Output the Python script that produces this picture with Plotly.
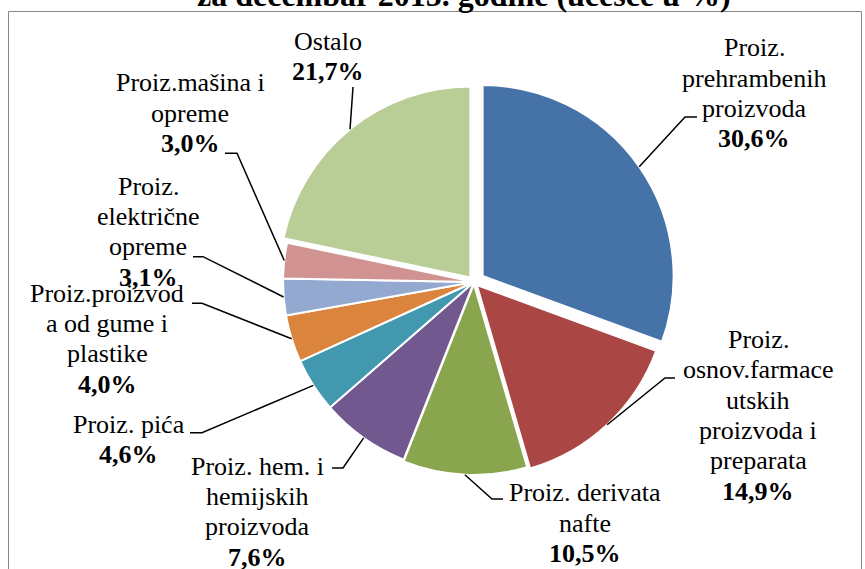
import math
import plotly.graph_objects as go

W, H = 865, 569

# ---------------- data ----------------
categories = [
    "Proiz. prehrambenih proizvoda",
    "Proiz. osnov.farmaceutskih proizvoda i preparata",
    "Proiz. derivata nafte",
    "Proiz. hem. i hemijskih proizvoda",
    "Proiz. pića",
    "Proiz.proizvoda od gume i plastike",
    "Proiz. električne opreme",
    "Proiz.mašina i opreme",
    "Ostalo",
]
shares = [30.6, 14.9, 10.5, 7.6, 4.6, 4.0, 3.1, 3.0, 21.7]
label_lines = [
    ["Proiz.", "prehrambenih", "proizvoda"],
    ["Proiz.", "osnov.farmace", "utskih", "proizvoda i", "preparata"],
    ["Proiz. derivata", "nafte"],
    ["Proiz. hem. i", "hemijskih", "proizvoda"],
    ["Proiz. pića"],
    ["Proiz.proizvod", "a od gume i", "plastike"],
    ["Proiz.", "električne", "opreme"],
    ["Proiz.mašina i", "opreme"],
    ["Ostalo"],
]
title_text = "za decembar 2015. godine (učešće u %)"

# ---------------- style / layout ----------------
colors = ["#4572A7", "#AA4643", "#89A54E", "#71588F", "#4198AF",
          "#DB843D", "#93A9CF", "#D19392", "#B9CD96"]
pulls = [0.055, 0.022, 0.01, 0, 0, 0, 0, 0, 0.03]

PIE_CX, PIE_CY, PIE_R = 474, 282, 191   # pixels
FONT = "Liberation Serif"
FS = 26
LINE_H = 30.3

# label placement: text centre x, first baseline y, elbow (x, y), end (x, y)  [pixels]
label_pos = [
    (754, 56.5, 685, 117, 697, 117),
    (758, 348.3, 665, 378, 675, 378),
    (585, 501.7, 492, 499, 503, 499),
    (257, 475, 343, 468, 332, 468),
    (128.5, 433, 202, 432.7, 190, 432.7),
    (107, 302, 202, 303.3, 192, 303.3),
    (148, 195, 203, 256.7, 193, 256.7),
    (190, 91.7, 237, 153.3, 225, 153.3),
    (327.8, 50, 353, 87, 353, 87),
]


def px(x):
    return x / W


def py(y):
    return 1 - y / H


fig = go.Figure()

max_pull = max(pulls)
box = 2 * PIE_R * (1 + max_pull)
fig.add_trace(go.Pie(
    labels=categories,
    values=shares,
    sort=False,
    direction="clockwise",
    rotation=0,
    pull=pulls,
    marker=dict(colors=colors, line=dict(color="white", width=2)),
    textinfo="none",
    hoverinfo="label+percent",
    showlegend=False,
    domain=dict(x=[px(PIE_CX - box / 2), px(PIE_CX + box / 2)],
                y=[py(PIE_CY + box / 2), py(PIE_CY - box / 2)]),
))

annotations = []
shapes = []
total = sum(shares)
cum = 0.0
for i, v in enumerate(shares):
    mid = (cum + v / 2) / total * 2 * math.pi
    cum += v
    dx, dy = math.sin(mid), -math.cos(mid)
    dist = PIE_R * (1 + pulls[i])
    sx, sy = PIE_CX + dist * dx, PIE_CY + dist * dy
    tx, b0, ex, ey, lx, ly = label_pos[i]
    shapes.append(dict(
        type="path", xref="paper", yref="paper",
        path=f"M {px(sx)},{py(sy)} L {px(ex)},{py(ey)} L {px(lx)},{py(ly)}",
        line=dict(color="black", width=1.5),
    ))
    pct = f"{v:.1f}".replace(".", ",") + "%"
    lines = label_lines[i] + [f"<b>{pct}</b>"]
    for k, t in enumerate(lines):
        base = b0 + k * LINE_H
        annotations.append(dict(
            x=px(tx), y=py(base - 0.3375 * FS), xref="paper", yref="paper",
            text=t, showarrow=False, xanchor="center", yanchor="middle",
            font=dict(family=FONT, size=FS, color="black"),
        ))

# title (only the lower part is visible above the chart frame)
TFS = 32
annotations.append(dict(
    x=px(464), y=py(6 - 0.3375 * TFS), xref="paper", yref="paper",
    text=f"<b>{title_text}</b>", showarrow=False, xanchor="center", yanchor="middle",
    font=dict(family=FONT, size=TFS, color="black"),
))

# chart frame
shapes.append(dict(
    type="rect", xref="paper", yref="paper",
    x0=px(8.5), x1=px(861.5), y0=py(600), y1=py(11.5),
    line=dict(color="#868686", width=1), fillcolor="rgba(0,0,0,0)",
))

fig.update_layout(
    width=W, height=H,
    margin=dict(l=0, r=0, t=0, b=0),
    paper_bgcolor="white", plot_bgcolor="white",
    annotations=annotations, shapes=shapes,
)

fig.write_html("out.html", config={"displayModeBar": False},
               post_script="document.body.style.margin='0';")
